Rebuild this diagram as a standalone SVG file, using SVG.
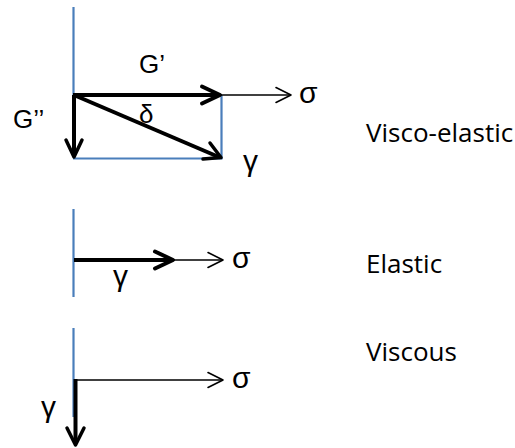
<svg xmlns="http://www.w3.org/2000/svg" width="515" height="448" viewBox="0 0 515 448">
<style>
.axis{stroke:#4a7ebb;stroke-width:2.2;fill:none}
.thick{stroke:#000;stroke-width:4;fill:none}
.thin{stroke:#000;stroke-width:1.6;fill:none}
.head{stroke:#000;fill:none;stroke-linecap:round;stroke-linejoin:round}
.sym{font-family:"Liberation Sans",Arial,sans-serif;font-size:30px;fill:#000}
.g{font-family:"Liberation Sans",Arial,sans-serif;font-size:26px;fill:#000}
.lbl{font-family:"Open Sans",sans-serif;font-size:26px;fill:#000}
</style>
<rect width="515" height="448" fill="#fff"/>
<g id="viscoelastic">
<line class="axis" x1="73.5" y1="7" x2="73.5" y2="96"/>
<line class="axis" x1="221.5" y1="95" x2="221.5" y2="159"/>
<line class="axis" x1="73" y1="158.5" x2="222.5" y2="158.5"/>
<line class="thin" x1="221" y1="95" x2="291" y2="95"/>
<polyline class="head" stroke-width="1.6" points="276,87.5 291,95 276,102.5"/>
<line class="thick" x1="73" y1="95" x2="219" y2="95"/>
<polyline class="head" stroke-width="4" points="202,86.5 220,95 202,103.5"/>
<line class="thick" x1="74" y1="95" x2="74" y2="156"/>
<polyline class="head" stroke-width="3.5" points="66,140 74,157 82,140"/>
<line class="thick" stroke-width="3" x1="75" y1="95.5" x2="220" y2="157.5"/>
<polyline class="head" stroke-width="3.5" points="210,143 221,157.5 203,159"/>
<text class="g" x="139" y="73">G’</text>
<text class="g" x="13" y="128">G’’</text>
<text class="g" x="139" y="123">δ</text>
<text class="sym" x="243" y="171">γ</text>
<text class="sym" x="299" y="103">σ</text>
<text class="lbl" x="366" y="142">Visco-elastic</text>
</g>
<g id="elastic">
<line class="axis" x1="73.5" y1="209" x2="73.5" y2="297"/>
<line class="thin" x1="173" y1="260" x2="223" y2="260"/>
<polyline class="head" stroke-width="1.6" points="208,252.5 223,260 208,267.5"/>
<line class="thick" x1="74" y1="260" x2="171" y2="260"/>
<polyline class="head" stroke-width="4" points="155,251.5 173,260 155,268.5"/>
<text class="sym" x="113" y="285.5">γ</text>
<text class="sym" x="232" y="268">σ</text>
<text class="lbl" x="366" y="273">Elastic</text>
</g>
<g id="viscous">
<line class="axis" x1="73.5" y1="328" x2="73.5" y2="417"/>
<line class="thin" x1="75" y1="380" x2="223" y2="380"/>
<polyline class="head" stroke-width="1.6" points="208,372.5 223,380 208,387.5"/>
<line class="thick" stroke-width="3" x1="75.5" y1="379" x2="75.5" y2="443"/>
<polyline class="head" stroke-width="3.5" points="67,428 75.5,445 84,428"/>
<text class="sym" x="41" y="417">γ</text>
<text class="sym" x="232" y="388">σ</text>
<text class="lbl" x="366" y="361">Viscous</text>
</g>
</svg>
